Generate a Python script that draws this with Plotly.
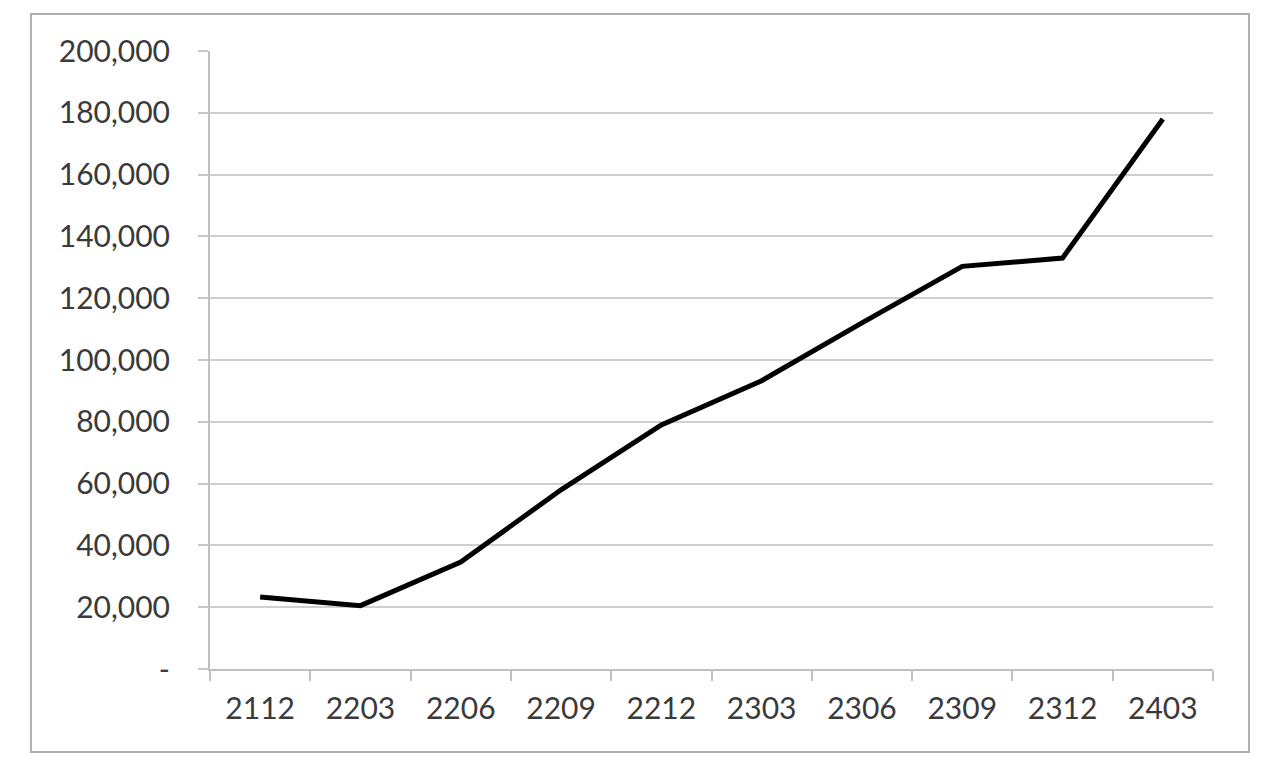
import plotly.graph_objects as go

categories = ["2112", "2203", "2206", "2209", "2212", "2303", "2306", "2309", "2312", "2403"]
values = [23300, 20500, 34600, 58000, 79000, 93300, 112000, 130300, 133000, 178000]
y_tickvals = [0, 20000, 40000, 60000, 80000, 100000, 120000, 140000, 160000, 180000, 200000]
y_ticktext = ["-", "20,000", "40,000", "60,000", "80,000", "100,000", "120,000",
              "140,000", "160,000", "180,000", "200,000"]

fig = go.Figure()
fig.add_trace(go.Scatter(
    x=categories, y=values, mode="lines",
    line=dict(color="#000000", width=5),
    showlegend=False,
))

font_family = "Lato, 'Open Sans', sans-serif"
fig.update_layout(
    width=1280, height=772,
    margin=dict(l=202, r=75, t=43, b=111),
    paper_bgcolor="white", plot_bgcolor="white",
    font=dict(family=font_family, size=30, color="#3a3a3a"),
    xaxis=dict(
        type="category",
        tickson="boundaries",
        ticks="outside", ticklen=10, tickwidth=2, tickcolor="#c0c0c0",
        showline=True, linecolor="#c0c0c0", linewidth=2,
        showgrid=False, zeroline=False,
        range=[-0.5, 9.5],
        ticklabelstandoff=12,
        tickfont=dict(size=30, color="#3a3a3a"),
    ),
    yaxis=dict(
        range=[0, 200000],
        tickvals=y_tickvals, ticktext=y_ticktext,
        ticks="outside", ticklen=10, tickwidth=2, tickcolor="#c8c8c8",
        showline=True, linecolor="#c0c0c0", linewidth=2,
        showgrid=True, gridcolor="#cfcfcf", gridwidth=2,
        zeroline=False,
        ticklabelstandoff=22,
        tickfont=dict(size=30, color="#3a3a3a"),
    ),
    shapes=[dict(
        type="rect", xref="paper", yref="paper",
        x0=-0.1785, x1=1.0359, y0=-0.1343, y1=1.0599,
        line=dict(color="#b0b0b0", width=2), layer="below",
    )],
)

fig.write_html("out.html")
